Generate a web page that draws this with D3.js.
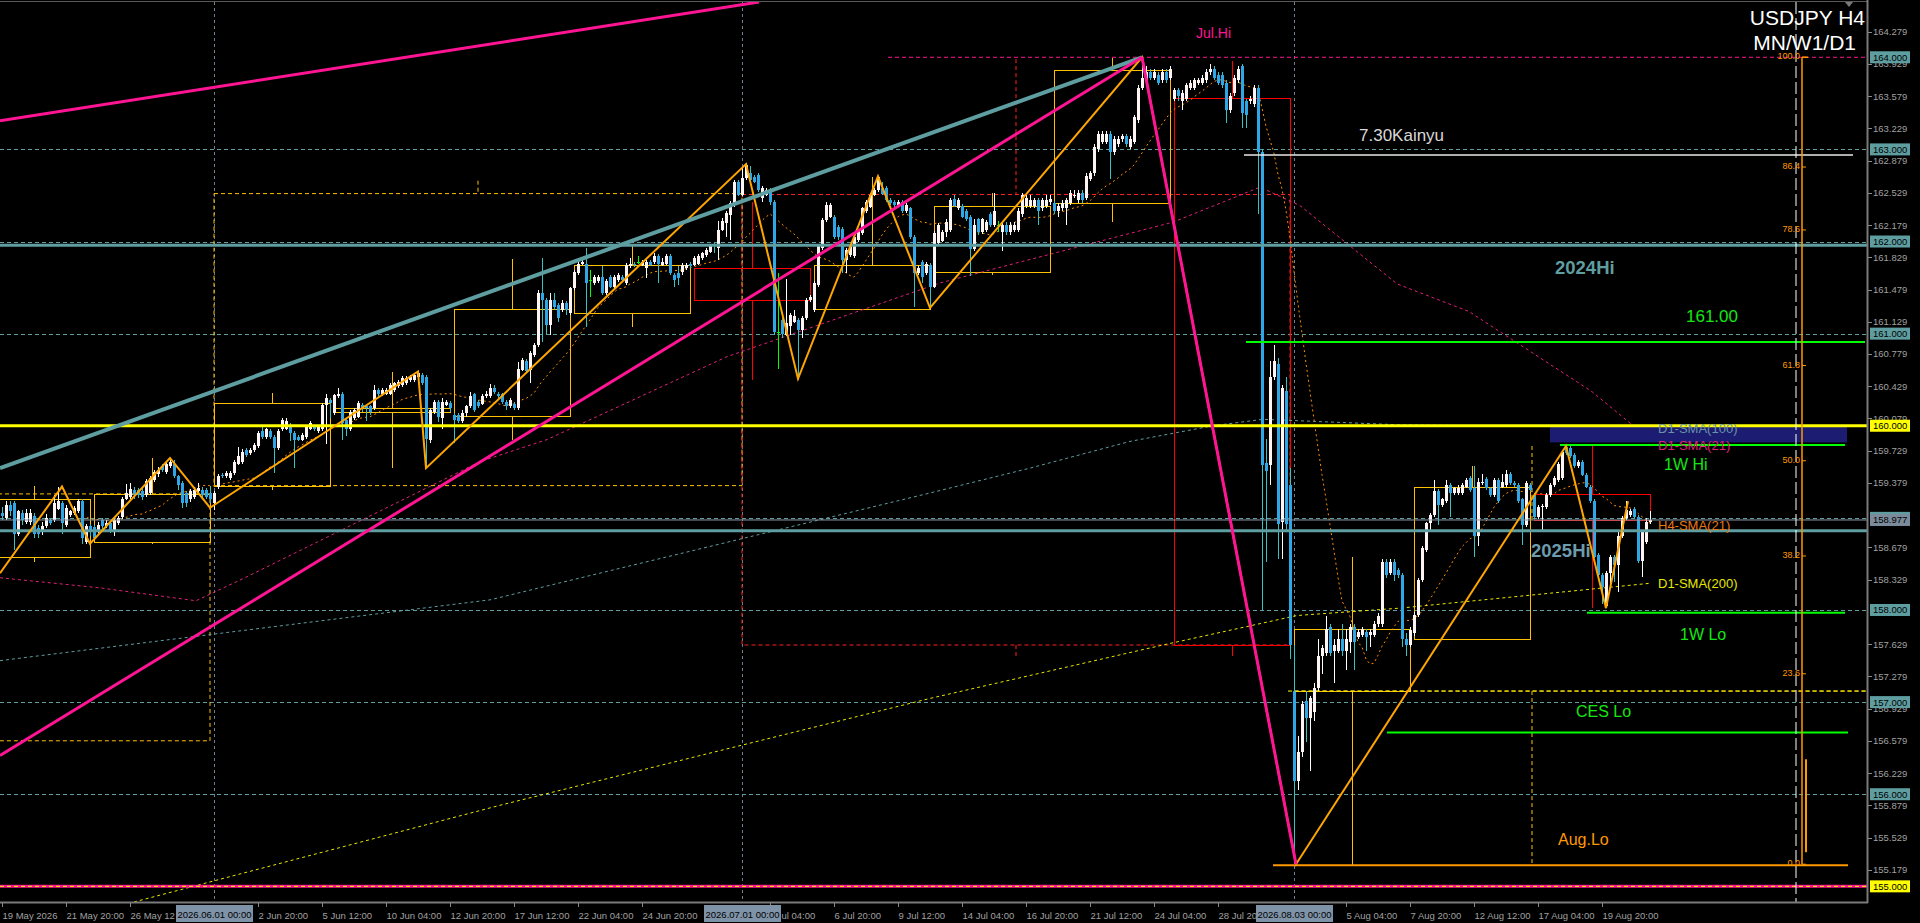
<!DOCTYPE html>
<html><head><meta charset="utf-8">
<script src="https://cdn.jsdelivr.net/npm/d3@7/dist/d3.min.js"></script>
<style>
html,body{margin:0;padding:0;background:#000;overflow:hidden;}
svg{display:block;font-family:"Liberation Sans",Arial,sans-serif;}
</style></head><body>
<svg id="chart" width="1920" height="923"></svg>
<script>
// ---------------- DATA ----------------
// H4 candles [open, high, low, close], bar 0 = 19 May 2026 04:00
const candles = [
// 0-
[159.05,159.12,158.98,159.02],[159.00,159.18,158.98,159.14],[159.14,159.18,159.02,159.07],[159.16,159.18,158.65,158.83],[158.82,159.09,158.80,159.07],
[159.05,159.09,158.92,158.98],[158.96,159.10,158.93,159.05],[158.96,159.10,158.92,159.05],[159.02,159.05,158.78,158.83],[158.89,158.92,158.78,158.83],
// 10-
[158.85,158.95,158.81,158.91],[158.91,159.04,158.89,159.00],[158.98,159.00,158.92,158.94],[158.98,159.25,158.96,159.16],[159.10,159.34,159.08,159.18],
[159.16,159.18,158.83,158.94],[158.92,159.14,158.90,159.11],[159.03,159.09,159.01,159.07],[159.05,159.13,159.03,159.11],[159.07,159.21,159.05,159.18],
// 20-
[159.18,159.21,158.72,158.78],[158.74,158.93,158.72,158.91],[158.91,158.93,158.80,158.85],[158.90,158.92,158.76,158.78],[158.87,158.95,158.84,158.92],
[158.98,159.00,158.88,158.91],[158.91,158.98,158.89,158.94],[158.94,158.96,158.84,158.87],[158.87,159.00,158.80,158.98],[158.94,159.02,158.92,159.00],
// 30-
[159.01,159.23,158.99,159.21],[159.21,159.37,159.19,159.27],[159.23,159.38,159.21,159.31],[159.30,159.34,159.20,159.25],[159.30,159.32,159.22,159.25],
[159.29,159.32,159.19,159.23],[159.25,159.42,159.23,159.40],[159.27,159.45,159.25,159.43],[159.41,159.52,159.39,159.50],[159.48,159.55,159.44,159.52],
// 40-
[159.56,159.59,159.50,159.52],[159.50,159.62,159.48,159.59],[159.56,159.65,159.54,159.61],[159.59,159.63,159.43,159.45],[159.45,159.47,159.30,159.36],
[159.38,159.40,159.11,159.16],[159.27,159.29,159.12,159.16],[159.20,159.31,159.17,159.29],[159.23,159.33,159.20,159.30],[159.29,159.38,159.27,159.32],
// 50-
[159.30,159.33,159.22,159.25],[159.30,159.32,159.20,159.23],[159.27,159.35,159.16,159.20],[159.16,159.29,159.09,159.27],[159.34,159.48,159.31,159.45],
[159.47,159.49,159.43,159.45],[159.45,159.51,159.43,159.49],[159.43,159.51,159.41,159.49],[159.49,159.63,159.47,159.61],[159.59,159.77,159.57,159.67],
// 60-
[159.61,159.75,159.59,159.72],[159.74,159.76,159.66,159.68],[159.70,159.76,159.68,159.74],[159.74,159.81,159.72,159.79],[159.78,159.94,159.76,159.92],
[159.94,159.99,159.86,159.88],[159.88,159.98,159.86,159.96],[159.94,159.96,159.86,159.88],[159.88,159.90,159.49,159.76],[159.76,159.96,159.74,159.94],
// 70-
[159.96,160.08,159.94,160.06],[159.97,160.08,159.95,160.05],[160.01,160.03,159.83,159.92],[159.92,159.94,159.54,159.85],[159.88,159.90,159.83,159.85],
[159.85,159.92,159.83,159.90],[159.88,160.01,159.86,159.99],[159.97,160.05,159.95,160.03],[159.99,160.01,159.94,159.96],[159.94,160.01,159.92,159.99],
// 80-
[159.96,160.25,159.94,160.23],[160.23,160.35,159.80,160.30],[160.28,160.30,160.08,160.25],[160.14,160.35,160.12,160.33],[160.32,160.41,160.30,160.35],
[160.35,160.37,159.85,160.03],[160.06,160.08,159.89,159.96],[159.96,160.17,159.94,160.15],[160.08,160.19,160.06,160.17],[160.10,160.27,160.08,160.25],
// 90-
[160.23,160.25,160.15,160.19],[160.21,160.23,160.05,160.19],[160.21,160.23,160.12,160.15],[160.19,160.44,160.17,160.39],[160.39,160.41,160.32,160.35],
[160.34,160.41,160.32,160.39],[160.35,160.41,160.33,160.39],[160.35,160.46,160.33,160.44],[160.39,160.48,160.37,160.46],[160.43,160.50,160.41,160.48],
// 100-
[160.44,160.54,160.42,160.52],[160.46,160.54,160.44,160.52],[160.50,160.55,160.48,160.53],[160.50,160.57,160.48,160.55],[160.53,160.59,160.51,160.57],
[160.55,160.57,160.44,160.46],[160.53,160.55,159.54,159.86],[159.85,160.19,159.81,160.17],[160.15,160.28,160.13,160.26],[160.26,160.28,160.04,160.10],
// 110-
[160.08,160.30,159.96,160.26],[160.23,160.28,160.21,160.26],[160.25,160.27,160.15,160.19],[160.12,160.14,159.81,160.06],[160.12,160.14,160.03,160.05],
[160.05,160.17,160.03,160.14],[160.14,160.23,160.10,160.21],[160.21,160.37,160.19,160.32],[160.34,160.36,160.15,160.17],[160.26,160.28,160.19,160.21],
// 120-
[160.24,160.34,160.22,160.32],[160.32,160.38,160.30,160.35],[160.32,160.45,160.30,160.41],[160.41,160.44,160.35,160.37],[160.35,160.37,160.30,160.32],
[160.34,160.36,160.24,160.26],[160.26,160.28,160.17,160.21],[160.21,160.30,160.19,160.28],[160.24,160.26,160.17,160.19],[160.19,160.69,160.17,160.62],
// 130-
[160.61,160.73,160.59,160.71],[160.70,160.72,160.57,160.59],[160.61,160.81,160.46,160.79],[160.77,160.90,160.75,160.88],[160.88,161.47,160.86,161.44],
[161.44,161.82,160.91,161.37],[161.37,161.39,161.00,161.09],[161.09,161.44,160.99,161.37],[161.37,161.44,161.26,161.29],[161.31,161.33,161.13,161.17],
// 140-
[161.26,161.36,161.24,161.33],[161.33,161.35,161.20,161.26],[161.22,161.51,161.20,161.49],[161.49,161.69,161.47,161.67],[161.66,161.78,161.64,161.76],
[161.76,161.80,161.74,161.78],[161.76,161.93,161.07,161.55],[161.58,161.69,161.40,161.58],[161.55,161.64,161.53,161.62],[161.57,161.64,161.55,161.62],
// 150-
[161.62,161.73,161.42,161.44],[161.44,161.59,161.42,161.57],[161.62,161.64,161.49,161.51],[161.51,161.64,161.49,161.62],[161.58,161.66,161.56,161.64],
[161.62,161.64,161.56,161.58],[161.55,161.77,161.53,161.75],[161.73,161.82,161.71,161.76],[161.76,161.78,161.72,161.74],[161.78,161.84,161.76,161.78],
// 160-
[161.75,161.80,161.73,161.78],[161.71,161.80,161.60,161.78],[161.78,161.80,161.73,161.75],[161.78,161.87,161.76,161.84],[161.84,161.86,161.55,161.76],
[161.75,161.82,161.73,161.78],[161.76,161.86,161.74,161.84],[161.84,161.86,161.64,161.66],[161.64,161.66,161.51,161.58],[161.66,161.73,161.53,161.60],
// 170-
[161.67,161.77,161.64,161.75],[161.71,161.77,161.69,161.75],[161.76,161.78,161.71,161.73],[161.75,161.84,161.73,161.82],[161.76,161.86,161.74,161.84],
[161.82,161.89,161.80,161.87],[161.85,161.93,161.83,161.91],[161.89,161.97,161.87,161.95],[161.96,161.98,161.87,161.95],[161.93,162.22,161.80,162.13],
// 180-
[162.13,162.25,162.11,162.22],[162.20,162.33,162.05,162.31],[162.29,162.44,162.02,162.42],[162.40,162.67,162.38,162.65],[162.65,162.67,162.49,162.51],
[162.51,162.80,162.49,162.69],[162.69,162.85,162.67,162.83],[162.74,162.82,162.65,162.67],[162.70,162.72,162.63,162.65],[162.72,162.74,162.54,162.56],
// 190-
[162.47,162.60,162.43,162.58],[162.51,162.58,162.49,162.56],[162.56,162.58,162.40,162.43],[162.43,162.45,160.98,161.02],[161.02,161.66,160.62,161.02],
[161.15,161.17,160.95,161.00],[160.99,161.59,160.97,161.11],[161.08,161.22,160.99,161.20],[161.13,161.26,161.11,161.19],[161.15,161.17,160.50,161.04],
// 200-
[161.04,161.19,160.95,161.17],[161.17,161.39,161.15,161.37],[161.36,161.42,161.34,161.40],[161.26,161.57,161.24,161.55],[161.53,161.97,161.51,161.95],
[161.93,162.25,161.91,162.23],[162.23,162.43,162.21,162.40],[162.27,162.42,162.25,162.40],[162.27,162.29,162.03,162.05],[162.16,162.18,162.02,162.05],
// 210-
[162.14,162.16,161.66,161.80],[161.80,161.93,161.66,161.91],[161.85,161.97,161.83,161.95],[161.84,162.07,161.82,162.05],[162.02,162.13,162.00,162.11],
[162.09,162.38,162.07,162.36],[162.33,162.45,162.31,162.43],[162.38,162.53,162.36,162.51],[162.51,162.58,162.49,162.56],[162.56,162.71,162.54,162.70],
// 220-
[162.58,162.65,162.50,162.52],[162.58,162.60,162.43,162.45],[162.45,162.47,162.40,162.42],[162.43,162.45,162.38,162.40],[162.40,162.45,162.38,162.43],
[162.43,162.45,162.31,162.33],[162.33,162.42,162.31,162.40],[162.36,162.38,162.03,162.05],[162.05,162.07,161.29,161.66],[161.66,161.73,161.64,161.71],
// 230-
[161.78,161.80,161.55,161.62],[161.66,161.78,161.64,161.76],[161.75,161.77,161.28,161.51],[161.51,162.11,161.49,162.09],[161.98,162.20,161.96,162.18],
[162.01,162.12,161.99,162.10],[162.10,162.24,162.05,162.21],[162.12,162.47,162.10,162.45],[162.46,162.50,162.37,162.39],[162.36,162.47,162.34,162.45],
// 240-
[162.39,162.41,162.25,162.27],[162.33,162.35,162.22,162.24],[162.27,162.29,161.63,161.92],[161.92,162.24,161.90,162.18],[162.24,162.26,162.07,162.10],
[162.10,162.26,162.08,162.24],[162.12,162.23,162.10,162.21],[162.30,162.32,162.16,162.18],[162.18,162.53,162.16,162.33],[162.18,162.22,162.10,162.18],
// 250-
[162.10,162.21,161.90,162.18],[162.18,162.21,162.07,162.10],[162.10,162.21,162.07,162.18],[162.12,162.21,162.10,162.18],[162.12,162.36,162.10,162.33],
[162.30,162.53,162.27,162.50],[162.39,162.50,162.36,162.47],[162.39,162.50,162.36,162.45],[162.39,162.47,162.36,162.45],[162.45,162.47,162.18,162.33],
// 260-
[162.36,162.47,162.33,162.45],[162.39,162.50,162.36,162.45],[162.43,162.50,162.40,162.46],[162.42,162.44,162.30,162.33],[162.33,162.42,162.27,162.39],
[162.36,162.45,162.33,162.42],[162.36,162.47,162.18,162.45],[162.42,162.56,162.40,162.53],[162.50,162.56,162.47,162.51],[162.45,162.56,162.42,162.53],
// 270-
[162.53,162.56,162.42,162.45],[162.47,162.74,162.45,162.71],[162.68,162.77,162.66,162.74],[162.74,163.06,162.71,163.03],[163.00,163.20,162.97,163.17],
[163.08,163.20,163.06,163.17],[163.08,163.20,163.06,163.17],[163.17,163.20,162.68,162.97],[162.97,163.14,162.94,163.11],[163.06,163.14,163.03,163.11],
// 280-
[163.11,163.17,163.08,163.14],[163.14,163.17,163.03,163.06],[163.03,163.14,163.00,163.11],[163.08,163.37,163.06,163.35],[163.32,163.70,163.29,163.67],
[163.67,163.99,163.64,163.78],[163.75,163.90,163.72,163.84],[163.84,163.87,163.75,163.78],[163.78,163.87,163.75,163.84],[163.81,163.84,163.70,163.72],
// 290-
[163.75,163.87,163.72,163.84],[163.84,163.87,163.72,163.75],[163.78,163.90,163.75,163.87],[163.55,163.67,163.52,163.64],[163.64,163.67,163.52,163.58],
[163.52,163.64,163.43,163.61],[163.55,163.72,163.52,163.70],[163.67,163.75,163.64,163.72],[163.67,163.78,163.64,163.75],[163.72,163.78,163.70,163.75],
// 300-
[163.72,163.81,163.70,163.78],[163.75,163.87,163.72,163.84],[163.84,163.93,163.81,163.87],[163.87,163.90,163.75,163.78],[163.81,163.84,163.70,163.72],
[163.81,163.84,163.67,163.70],[163.72,163.75,163.29,163.43],[163.43,163.61,163.40,163.58],[163.61,163.81,163.58,163.78],[163.75,163.90,163.72,163.87],
// 310-
[163.90,163.93,163.23,163.40],[163.52,163.55,163.23,163.37],[163.52,163.58,163.49,163.55],[163.49,163.70,163.46,163.67],[163.67,163.70,162.30,162.97],
[162.97,163.00,158.00,159.57],[159.60,159.86,158.52,159.51],[159.57,160.70,159.36,160.53],[160.53,160.88,160.50,160.70],[160.67,160.73,158.55,158.93],
// 320-
[158.96,160.44,158.55,160.41],[160.38,160.53,158.87,158.93],[159.36,159.54,157.47,157.62],[157.12,157.62,155.24,156.14],[156.14,156.63,156.05,156.46],
[156.46,157.01,156.40,156.98],[157.01,157.12,156.57,156.83],[156.83,157.07,156.25,157.04],[156.89,157.21,156.80,157.15],[157.15,157.68,157.12,157.50],
// 330-
[157.50,157.62,157.30,157.59],[157.53,157.94,157.50,157.79],[157.82,157.85,157.50,157.53],[157.56,157.68,157.21,157.62],[157.56,157.79,157.53,157.68],
[157.68,157.85,157.50,157.56],[157.56,157.79,157.35,157.68],[157.65,157.85,157.53,157.82],[157.82,157.85,157.35,157.65],[157.71,157.79,157.68,157.76],
// 340-
[157.73,157.82,157.71,157.79],[157.76,157.79,157.56,157.71],[157.73,157.79,157.60,157.76],[157.73,157.88,157.71,157.85],[157.85,157.97,157.82,157.94],
[157.85,158.55,157.82,158.52],[158.52,158.55,158.35,158.38],[158.40,158.55,158.38,158.52],[158.52,158.55,158.32,158.38],[158.43,158.46,158.35,158.38],
// 350-
[158.38,158.40,157.60,157.68],[157.68,157.75,157.50,157.62],[157.62,157.82,157.60,157.78],[157.75,157.98,157.72,157.95],[157.95,158.35,157.92,158.33],
[158.33,158.69,158.30,158.67],[158.65,158.96,158.63,158.94],[158.94,159.05,158.85,159.03],[159.03,159.41,159.01,159.29],[159.29,159.31,158.92,159.14],
// 360-
[159.14,159.22,159.12,159.20],[159.18,159.41,159.16,159.36],[159.36,159.38,159.01,159.27],[159.27,159.34,159.25,159.32],[159.27,159.36,159.25,159.32],
[159.27,159.38,159.25,159.36],[159.34,159.43,159.32,159.41],[159.43,159.45,159.28,159.30],[159.32,159.56,158.58,158.80],[158.80,159.43,158.69,159.39],
// 370-
[159.38,159.48,159.36,159.39],[159.42,159.44,159.30,159.32],[159.32,159.34,159.23,159.25],[159.25,159.43,159.23,159.41],[159.41,159.43,159.16,159.18],
[159.34,159.48,159.32,159.39],[159.36,159.52,159.34,159.48],[159.48,159.50,159.36,159.38],[159.38,159.40,159.34,159.36],[159.36,159.38,159.16,159.18],
// 380-
[159.20,159.22,158.71,158.92],[158.92,159.40,158.90,159.38],[159.36,159.38,159.28,159.30],[159.25,159.27,158.99,159.01],[159.01,159.14,158.99,159.12],
[159.12,159.15,158.85,159.13],[159.12,159.27,159.10,159.25],[159.25,159.38,159.23,159.36],[159.36,159.45,159.34,159.43],[159.41,159.61,159.39,159.59],
// 390-
[159.43,159.74,159.41,159.72],[159.77,159.78,159.68,159.70],[159.76,159.78,159.65,159.67],[159.68,159.70,159.54,159.56],[159.56,159.63,159.54,159.61],
[159.61,159.63,159.45,159.47],[159.47,159.49,159.32,159.34],[159.34,159.36,159.16,159.18],[159.18,159.20,158.56,158.58],[158.60,158.62,158.31,158.38],
// 400-
[158.38,158.40,158.07,158.25],[158.04,158.42,158.02,158.40],[158.40,158.60,158.25,158.58],[158.58,158.60,158.30,158.49],[158.49,158.85,158.20,158.80],
[158.80,159.02,158.78,159.00],[159.00,159.18,158.98,159.09],[159.03,159.10,159.01,159.07],[159.10,159.12,158.99,159.01],[159.01,159.03,158.51,158.53],
// 410-412
[158.53,158.87,158.36,158.85],[158.74,159.00,158.72,158.95],[158.95,159.07,158.93,158.98]
];

// right price axis tick labels (those fully hidden behind tags are not shown)
const priceTicks = [164.279,163.929,163.579,163.229,162.879,162.529,162.179,161.829,161.479,161.129,160.779,160.429,160.079,
  159.729,159.379,158.679,158.329,157.629,157.279,156.929,156.579,156.229,155.879,155.529,155.179];
// highlighted price tags
const tagPrices = [164,163,162,161,160,159,158.977,158,157,156,155];
// time axis (bar index, visible label text)
const timeTickBars = [0,16,32,64,80,96,112,128,144,160,192,208,224,240,256,272,288,304,336,352,368,384,400];
const timeTickLabels = ["19 May 2026","21 May 20:00","26 May 12","2 Jun 20:00","5 Jun 12:00","10 Jun 04:00",
  "12 Jun 20:00","17 Jun 12:00","22 Jun 04:00","24 Jun 20:00","ul 04:00","6 Jul 20:00","9 Jul 12:00",
  "14 Jul 04:00","16 Jul 20:00","21 Jul 12:00","24 Jul 04:00","28 Jul 20","5 Aug 04:00","7 Aug 20:00",
  "12 Aug 12:00","17 Aug 04:00","19 Aug 20:00"];
const periodSepBars = [53,185,323];
const periodSepLabels = ["2026.06.01 00:00","2026.07.01 00:00","2026.08.03 00:00"];

// round-number dashed levels
const roundLevels = [163,162,161,159,158,157,156];

// weekly candles (W1): [firstBar,lastBar] and [open,high,low,close]
const weekBars = [[-6,22],[23,52],[53,82],[83,112],[113,142],[143,172],[173,202],[203,232],[233,262],[263,292],[293,322],[323,352],[353,382],[383,412]];
const weekOHLC = [[158.57,159.35,158.52,159.20],[158.74,159.65,158.72,159.26],[159.35,160.36,159.30,160.25],[160.15,160.58,159.54,160.19],
  [160.11,161.81,159.85,161.27],[161.22,161.96,161.07,161.75],[161.71,162.43,160.50,161.37],[161.27,162.70,161.27,161.74],
  [161.67,162.53,161.64,162.39],[162.42,163.99,162.21,163.86],[163.56,163.96,157.50,157.62],[157.12,158.58,155.23,157.79],
  [157.69,159.56,157.69,159.34],[159.26,159.78,158.02,158.98]];
// monthly candles (MN)
const monthBars = [[-120,52],[53,185],[185,322],[323,442]];
const monthOHLC = [[156.58,159.26,156.58,159.26],[159.35,162.66,159.35,162.52],[162.51,163.98,157.50,157.62],[157.12,159.78,155.24,158.98]];

// daily SMAs: [bar, price]
const d1Sma21 = [[-0.5,158.35],[24.5,158.24],[48.5,158.10],[60.25,158.34],[119.5,159.61],[136.25,159.85],[181.25,160.75],[234.5,161.55],
  [292.75,162.21],[314.5,162.59],[324.5,162.39],[348.75,161.54],[366.75,161.24],[397.5,160.37],[412,159.85]];
const d1Sma100 = [[-0.5,157.45],[122,158.11],[232,159.27],[257,159.54],[282,159.83],[302.75,160.00],[315.25,160.07],[349.5,160.01],[389.5,159.99],[412,159.98]];
const d1Sma200 = [[33,154.83],[124.5,155.88],[232,157.04],[290.25,157.62],[323.75,157.94],[349.5,158.02],[412,158.29]];

// zigzag swing points [bar, price]
const zigzag = [[-0.5,158.40],[15,159.34],[22,158.72],[42,159.65],[52,159.11],[104,160.59],[106,159.54],[186,162.84],[199,160.51],
  [219,162.71],[232,161.28],[285,164.00],[323.5,155.24],[391,159.78],[401,158.02],[406.5,159.18]];

// trend lines [[bar,price],[bar,price]]
const pinkTrendTop = [[-0.5,163.31],[189.25,164.60]];
const pinkTrendUp = [[-0.5,156.42],[285,164.00]];
const pinkTrendDown = [[285,164.00],[323.5,155.24]];
const tealTrend = [[-0.5,159.54],[285,164.00]];

// horizontal levels
const level2024Hi = 161.96, level2025Hi = 158.86, bidPrice = 158.977;
const level161 = 160.91, level1WHi = 159.79, level1WLo = 157.97, levelCESLo = 156.67, levelAugLo = 155.23, levelKainyu = 162.94;
const navyZone = [160.00, 159.83];
// fibonacci
const fibLow = 155.24, fibHigh = 164.00;
const fibLevels = [0, 23.6, 38.2, 50.0, 61.8, 78.6, 86.4, 100.0];

// ---------------- DRAW ----------------
const svg = d3.select('#chart');
const PR = 1867, PT = 2, PB = 902;
const x = d3.scaleLinear().domain([0, 100]).range([2, 402]);
const y = d3.scaleLinear().domain([154.83, 164.60]).range([PB, PT]);
const line = d3.line().x(d => x(d[0])).y(d => y(d[1]));

svg.append('rect').attr('width', 1920).attr('height', 923).attr('fill', '#000');
svg.append('defs').append('clipPath').attr('id', 'clip')
  .append('rect').attr('x', 0).attr('y', PT).attr('width', PR).attr('height', PB - PT);
const plot = svg.append('g').attr('clip-path', 'url(#clip)');

// period separators
plot.append('g').selectAll('line').data(periodSepBars).join('line')
  .attr('x1', d => x(d) + 0.5).attr('x2', d => x(d) + 0.5).attr('y1', PT).attr('y2', PB)
  .attr('stroke', '#6f7f90').attr('stroke-dasharray', '3,3');

// round levels
plot.append('g').selectAll('line').data(roundLevels).join('line')
  .attr('x1', 0).attr('x2', PR).attr('y1', d => Math.round(y(d)) + 0.5).attr('y2', d => Math.round(y(d)) + 0.5)
  .attr('stroke', '#5f9ea0').attr('stroke-dasharray', '4,3');
plot.append('line').attr('x1', x(221.5)).attr('x2', PR).attr('y1', y(164)).attr('y2', y(164))
  .attr('stroke', '#ff1493').attr('stroke-dasharray', '4,3');

// monthly boxes (dashed)
const mg = plot.append('g').attr('fill', 'none').attr('stroke-dasharray', '4,3');
monthBars.forEach((b, k) => {
  const [o, h, l, c] = monthOHLC[k];
  const col = c >= o ? '#ffc000' : '#ff2020';
  const x1 = x(b[0]), x2 = x(b[1]), xm = x((b[0] + b[1]) / 2);
  const top = y(Math.max(o, c)), bot = y(Math.min(o, c));
  if (k < 3) {
    mg.append('rect').attr('x', x1).attr('y', top).attr('width', x2 - x1).attr('height', bot - top).attr('stroke', col);
  } else {
    mg.append('line').attr('x1', x1).attr('x2', PR).attr('y1', bot).attr('y2', bot).attr('stroke', col);
  }
  mg.append('line').attr('x1', xm).attr('x2', xm).attr('y1', y(h)).attr('y2', top).attr('stroke', col);
  mg.append('line').attr('x1', xm).attr('x2', xm).attr('y1', bot).attr('y2', y(l)).attr('stroke', col);
});

// weekly boxes
const wg = plot.append('g').attr('fill', 'none').attr('shape-rendering', 'crispEdges');
weekBars.forEach((b, k) => {
  const [o, h, l, c] = weekOHLC[k];
  const col = c >= o ? '#ffc000' : '#ff0000';
  const x1 = Math.round(x(b[0])) + 0.5, x2 = Math.round(x(b[1])) + 0.5, xm = Math.round(x((b[0] + b[1]) / 2)) + 0.5;
  const top = Math.round(y(Math.max(o, c))) + 0.5, bot = Math.round(y(Math.min(o, c))) + 0.5;
  wg.append('rect').attr('x', x1).attr('y', top).attr('width', x2 - x1).attr('height', Math.max(1, bot - top)).attr('stroke', col);
  wg.append('line').attr('x1', xm).attr('x2', xm).attr('y1', y(h)).attr('y2', top).attr('stroke', col);
  wg.append('line').attr('x1', xm).attr('x2', xm).attr('y1', bot).attr('y2', y(l)).attr('stroke', col);
});

// SMAs
plot.append('path').attr('d', line(d1Sma200)).attr('fill', 'none').attr('stroke', '#e8e800').attr('stroke-dasharray', '3,3');
plot.append('path').attr('d', line(d1Sma100)).attr('fill', 'none').attr('stroke', '#5f9ea0').attr('stroke-dasharray', '3,3');
plot.append('path').attr('d', line(d1Sma21)).attr('fill', 'none').attr('stroke', '#e0207a').attr('stroke-dasharray', '3,3');
const h4Sma = candles.map((d, i) => i < 20 ? null : [i, d3.mean(candles.slice(i - 20, i + 1), e => e[3])]).filter(d => d);
plot.append('path').attr('d', line(h4Sma)).attr('fill', 'none').attr('stroke', '#ff8c00').attr('stroke-dasharray', '2,3');

// navy zone
plot.append('rect').attr('x', x(387)).attr('y', y(navyZone[0]) + 1).attr('width', x(461.25) - x(387))
  .attr('height', y(navyZone[1]) - y(navyZone[0])).attr('fill', '#1c1c72');

// candles
const cg = plot.append('g').attr('shape-rendering', 'crispEdges');
const cs = cg.selectAll('g').data(candles).join('g');
const isDoji = d => Math.abs(d[0] - d[3]) < 0.005;
cs.append('line')
  .attr('x1', (d, i) => Math.round(x(i)) + 0.5).attr('x2', (d, i) => Math.round(x(i)) + 0.5)
  .attr('y1', d => y(d[1])).attr('y2', d => y(d[2]))
  .attr('stroke', d => isDoji(d) ? '#00ff00' : (d[3] > d[0] ? '#ffffff' : '#36c3c3'));
cs.append('rect')
  .attr('x', (d, i) => Math.round(x(i)) - 1).attr('width', 3)
  .attr('y', d => y(Math.max(d[0], d[3])))
  .attr('height', d => Math.max(1, y(Math.min(d[0], d[3])) - y(Math.max(d[0], d[3]))))
  .attr('fill', d => isDoji(d) ? '#00ff00' : (d[3] > d[0] ? '#fff4f4' : '#2fa6e6'));

// horizontal lines
const hl = (p, b1, col, w, dash) => {
  const l = plot.append('line').attr('x1', b1 === null ? 0 : x(b1[0])).attr('x2', b1 === null ? PR : x(b1[1]))
    .attr('y1', y(p)).attr('y2', y(p)).attr('stroke', col).attr('stroke-width', w);
  if (dash) l.attr('stroke-dasharray', dash);
};
hl(level2024Hi, null, '#5f9ea0', 3);
hl(level2025Hi, null, '#5f9ea0', 3);
hl(bidPrice, null, '#8a9aaa', 1);
hl(160, null, '#ffff00', 3);
hl(155, null, '#ff1493', 3);
hl(155, null, '#ffff00', 1, '4,3');
hl(157.12, [321.5, 466], '#ffff00', 1, '4,3');
hl(levelKainyu, [310.5, 462.75], '#e8e8e8', 1.5);
hl(level161, [311, 465.75], '#00ff00', 2);
hl(level1WHi, [389.5, 460.75], '#00ff00', 2);
hl(level1WLo, [396.25, 460.75], '#00ff00', 2);
hl(levelCESLo, [346.25, 461.5], '#00ff00', 2);
hl(levelAugLo, [317.75, 461.5], '#ff9900', 2);

// zigzag (under the trend lines), then trend lines
plot.append('path').attr('d', line(zigzag)).attr('stroke', '#ffa500').attr('stroke-width', 2).attr('fill', 'none');
plot.append('path').attr('d', line(tealTrend)).attr('stroke', '#5f9ea0').attr('stroke-width', 4).attr('fill', 'none');
[pinkTrendTop, pinkTrendUp, pinkTrendDown].forEach(t =>
  plot.append('path').attr('d', line(t)).attr('stroke', '#ff1493').attr('stroke-width', 3).attr('fill', 'none'));

// white dashed vertical and fibonacci
plot.append('line').attr('x1', x(448.5)).attr('x2', x(448.5)).attr('y1', PT).attr('y2', PB)
  .attr('stroke', '#ffffff').attr('stroke-dasharray', '12,4');
const fibY = v => y(fibLow + (fibHigh - fibLow) * v / 100);
plot.append('line').attr('x1', x(450)).attr('x2', x(450)).attr('y1', fibY(100)).attr('y2', fibY(0))
  .attr('stroke', '#ff9900').attr('stroke-width', 1.5);
plot.append('line').attr('x1', x(451)).attr('x2', x(451)).attr('y1', fibY(13)).attr('y2', fibY(1.5))
  .attr('stroke', '#ff9900').attr('stroke-width', 2);
plot.append('line').attr('x1', x(450)).attr('x2', x(451.5)).attr('y1', fibY(100)).attr('y2', fibY(100))
  .attr('stroke', '#ff9900').attr('stroke-width', 1.5);
plot.append('g').selectAll('line').data(fibLevels).join('line')
  .attr('x1', x(450)).attr('x2', x(451)).attr('y1', d => fibY(d)).attr('y2', d => fibY(d)).attr('stroke', '#ff9900');
plot.append('g').selectAll('text').data(fibLevels).join('text')
  .attr('x', x(449.5)).attr('y', d => fibY(d) + 2).attr('text-anchor', 'end')
  .attr('font-size', 9).attr('fill', '#ff9900').text(d => d.toFixed(1));

// annotations [text, bar, price, color, size, weight]
const notes = [
  ["Jul.Hi", 298.5, 164.21, '#ff1493', 14, 'normal'],
  ["7.30Kainyu", 339.25, 163.09, '#d8d8d8', 17, 'normal'],
  ["2024Hi", 388.25, 161.65, '#5f9ea0', 18.5, 'bold'],
  ["161.00", 421, 161.13, '#14e614', 17, 'normal'],
  ["1W Hi", 415.5, 159.52, '#14e614', 16, 'normal'],
  ["2025Hi", 382.25, 158.57, '#6d9cae', 18.5, 'bold'],
  ["1W Lo", 419.5, 157.67, '#14e614', 16, 'normal'],
  ["CES Lo", 393.5, 156.84, '#14e614', 16, 'normal'],
  ["Aug.Lo", 389, 155.45, '#ff9900', 16, 'normal'],
  ["D1-SMA(100)", 414, 159.92, '#6a93a8', 13, 'normal'],
  ["D1-SMA(21)", 414, 159.74, '#e0207a', 13, 'normal'],
  ["H4-SMA(21)", 414, 158.87, '#e87810', 13, 'normal'],
  ["D1-SMA(200)", 414, 158.24, '#e6e600', 13, 'normal']
];
svg.append('g').selectAll('text').data(notes).join('text')
  .attr('x', d => x(d[1])).attr('y', d => y(d[2])).attr('fill', d => d[3])
  .attr('font-size', d => d[4]).attr('font-weight', d => d[5]).text(d => d[0]);

// title
svg.append('text').attr('x', 1865).attr('y', 25).attr('text-anchor', 'end').attr('font-size', 21).attr('fill', '#ffffff').text('USDJPY H4');
svg.append('text').attr('x', 1856).attr('y', 50).attr('text-anchor', 'end').attr('font-size', 21).attr('fill', '#ffffff').text('MN/W1/D1');

// frame
svg.append('line').attr('x1', 0).attr('x2', PR).attr('y1', 1.5).attr('y2', 1.5).attr('stroke', '#5a5a5a');
svg.append('line').attr('x1', PR + 0.5).attr('x2', PR + 0.5).attr('y1', 0).attr('y2', PB + 1).attr('stroke', '#7a7a7a').attr('stroke-width', 2);
svg.append('line').attr('x1', 0).attr('x2', PR + 1).attr('y1', PB + 0.5).attr('y2', PB + 0.5).attr('stroke', '#7a7a7a').attr('stroke-width', 2);
svg.append('path').attr('d', 'M1845,2 L1853,2 L1849,7 Z').attr('fill', '#7a7a7a');

// right axis
const ra = svg.append('g').attr('font-size', 9.5).attr('fill', '#a0a0a0');
ra.selectAll('line').data(priceTicks).join('line')
  .attr('x1', PR + 1).attr('x2', PR + 5).attr('y1', d => Math.round(y(d)) + 0.5).attr('y2', d => Math.round(y(d)) + 0.5).attr('stroke', '#8a8a8a');
ra.selectAll('text').data(priceTicks).join('text')
  .attr('x', PR + 6).attr('y', d => y(d) + 3.5).text(d => d.toFixed(3));
const tagColor = p => (p === 160 || p === 155) ? '#ffff00' : (p === bidPrice ? '#7b8b9b' : '#5f9ea0');
const tg = svg.append('g').selectAll('g').data(tagPrices).join('g');
tg.append('rect').attr('x', PR + 3).attr('y', d => y(d) - 6).attr('width', 40).attr('height', 12).attr('fill', tagColor);
tg.append('text').attr('x', PR + 6).attr('y', d => y(d) + 3.5).attr('font-size', 9.5).attr('fill', '#000').text(d => d.toFixed(3));

// bottom axis
const ba = svg.append('g').attr('font-size', 9.5).attr('fill', '#a0a0a0');
ba.selectAll('line').data(timeTickBars).join('line')
  .attr('x1', d => Math.round(x(d)) + 0.5).attr('x2', d => Math.round(x(d)) + 0.5).attr('y1', PB + 1).attr('y2', PB + 5).attr('stroke', '#8a8a8a');
ba.selectAll('text').data(timeTickBars).join('text')
  .attr('x', (d, i) => d === 192 ? x(185) + 39.5 : x(d) + 0.5).attr('y', 919).text((d, i) => timeTickLabels[i]);
const sg = svg.append('g').selectAll('g').data(periodSepBars).join('g');
sg.append('rect').attr('x', d => x(d) - 38).attr('y', 905).attr('width', 77).attr('height', 17).attr('fill', '#7f93a8');
sg.append('text').attr('x', d => x(d) + 0.5).attr('y', 918).attr('text-anchor', 'middle').attr('font-size', 9.5).attr('fill', '#000')
  .text((d, i) => periodSepLabels[i]);
</script></body></html>
